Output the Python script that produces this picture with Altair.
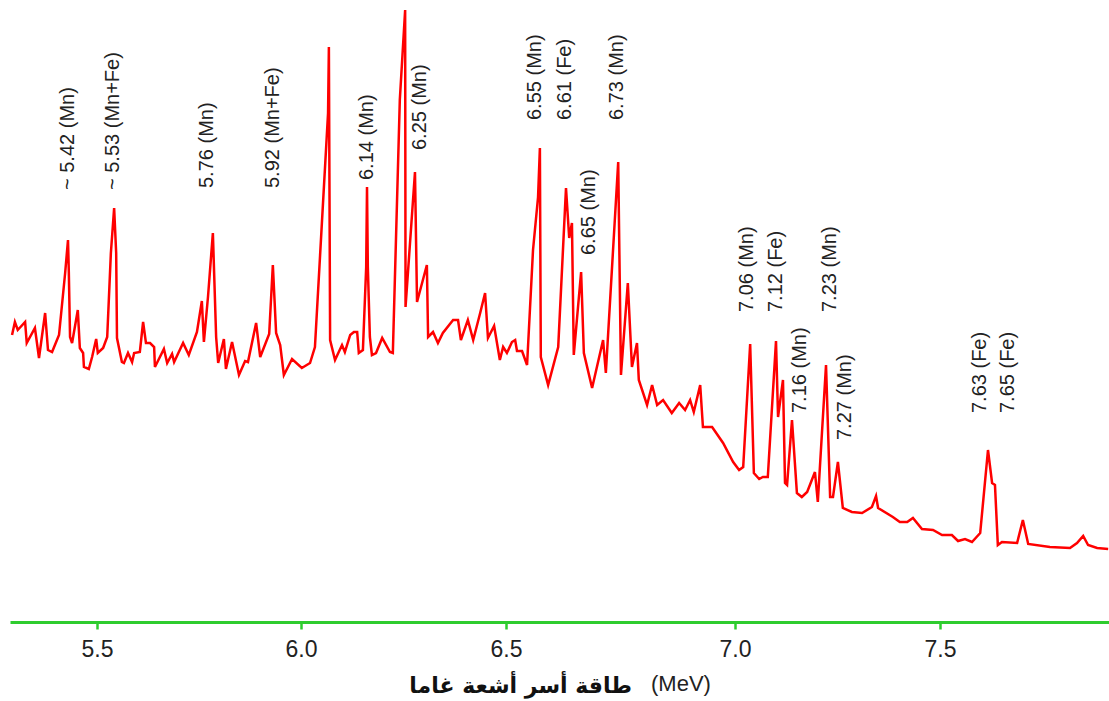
import altair as alt
import pandas as pd

# Spectrum (energy in MeV, counts in arbitrary units)
energy = [5.292, 5.299, 5.306, 5.324, 5.328, 5.348, 5.358, 5.373, 5.380, 5.390,
          5.407, 5.422, 5.429, 5.431, 5.434, 5.439, 5.453, 5.458, 5.466, 5.468,
          5.480, 5.488, 5.498, 5.502, 5.515, 5.525, 5.534, 5.542, 5.547, 5.549,
          5.561, 5.566, 5.576, 5.586, 5.591, 5.605, 5.613, 5.620, 5.630, 5.640,
          5.642, 5.664, 5.672, 5.684, 5.689, 5.711, 5.725, 5.745, 5.757, 5.762,
          5.772, 5.784, 5.792, 5.797, 5.811, 5.816, 5.831, 5.848, 5.863, 5.870,
          5.890, 5.900, 5.922, 5.931, 5.939, 5.949, 5.958, 5.978, 6.002, 6.022,
          6.034, 6.066, 6.068, 6.071, 6.083, 6.100, 6.107, 6.120, 6.129, 6.137,
          6.141, 6.151, 6.159, 6.161, 6.163, 6.168, 6.173, 6.183, 6.198, 6.217,
          6.224, 6.241, 6.254, 6.255, 6.278, 6.283, 6.307, 6.310, 6.322, 6.334,
          6.346, 6.371, 6.383, 6.390, 6.407, 6.420, 6.437, 6.449, 6.456, 6.471,
          6.485, 6.493, 6.502, 6.513, 6.520, 6.524, 6.535, 6.546, 6.559, 6.570,
          6.574, 6.576, 6.592, 6.614, 6.631, 6.638, 6.644, 6.648, 6.664, 6.670,
          6.688, 6.712, 6.718, 6.745, 6.751, 6.766, 6.775, 6.786, 6.790, 6.808,
          6.819, 6.830, 6.843, 6.862, 6.878, 6.891, 6.902, 6.910, 6.924, 6.930,
          6.950, 6.974, 6.996, 7.010, 7.020, 7.037, 7.046, 7.059, 7.068, 7.080,
          7.100, 7.105, 7.117, 7.122, 7.127, 7.139, 7.151, 7.163, 7.176, 7.195,
          7.202, 7.222, 7.232, 7.239, 7.251, 7.263, 7.285, 7.310, 7.334, 7.344,
          7.349, 7.385, 7.402, 7.420, 7.434, 7.456, 7.483, 7.505, 7.529, 7.544,
          7.561, 7.578, 7.598, 7.617, 7.627, 7.634, 7.641, 7.651, 7.688, 7.702,
          7.715, 7.768, 7.817, 7.834, 7.849, 7.861, 7.883, 7.910]
counts = [287, 300, 292, 300, 279, 294, 264, 309, 272, 270,
          287, 349, 382, 350, 285, 279, 312, 274, 269, 255,
          253, 265, 283, 269, 274, 285, 369, 414, 369, 284,
          260, 259, 269, 260, 269, 270, 300, 279, 279, 275,
          255, 273, 259, 268, 260, 279, 267, 290, 321, 280,
          325, 389, 285, 259, 283, 253, 280, 247, 261, 260,
          299, 265, 288, 357, 289, 277, 247, 263, 254, 259,
          275, 509, 575, 282, 262, 277, 270, 287, 290, 290,
          269, 272, 355, 435, 355, 285, 267, 269, 284, 270,
          269, 522, 612, 315, 450, 320, 357, 285, 290, 279,
          289, 302, 302, 282, 302, 282, 309, 329, 284, 296,
          262, 275, 269, 280, 282, 271, 271, 257, 372, 425,
          474, 265, 237, 275, 434, 384, 399, 267, 350, 269,
          234, 282, 249, 460, 247, 339, 255, 279, 242, 217,
          237, 217, 222, 209, 219, 212, 222, 210, 237, 195,
          195, 179, 160, 152, 155, 278, 149, 143, 145, 145,
          281, 205, 242, 139, 137, 202, 129, 125, 130, 150,
          120, 257, 125, 125, 160, 114, 110, 109, 115, 126,
          114, 105, 100, 100, 104, 93, 92, 87, 87, 81,
          83, 80, 89, 172, 139, 137, 77, 80, 79, 102,
          78, 75, 74, 79, 86, 77, 74, 73]

# Peak annotations
peak_labels = ["~ 5.42 (Mn)", "~ 5.53 (Mn+Fe)", "5.76 (Mn)", "5.92 (Mn+Fe)",
               "6.14 (Mn)", "6.25 (Mn)", "6.55 (Mn)", "6.61 (Fe)", "6.65 (Mn)",
               "6.73 (Mn)", "7.06 (Mn)", "7.12 (Fe)", "7.16 (Mn)", "7.23 (Mn)",
               "7.27 (Mn)", "7.63 (Fe)", "7.65 (Fe)"]
peak_E = [5.429, 5.539, 5.770, 5.931, 6.161, 6.290, 6.563, 6.629, 6.681,
          6.742, 7.029, 7.100, 7.159, 7.232, 7.268, 7.598, 7.666]
peak_I = [432, 432, 434, 434, 442, 472, 502, 502, 367,
          502, 310, 310, 209, 310, 182, 209, 209]

tick_values = [5.5, 6.0, 6.5, 7.0, 7.5]
title_ar = "طاقة أسر أشعة غاما"
title_unit = "(MeV)"

spec = pd.DataFrame({"E": energy, "I": counts, "idx": list(range(len(energy)))})
ann = pd.DataFrame({"E": peak_E, "I": peak_I, "label": peak_labels})

xscale = alt.Scale(domain=[5.287, 5.5, 6.0, 6.5, 7.0, 7.5, 7.912],
                   range=[0, 87, 291, 496, 725, 930, 1099], nice=False, zero=False)
yscale = alt.Scale(domain=[0, 622], nice=False, zero=False)

green = "#2ecc2e"

xaxis = alt.Axis(values=tick_values, format=".1f", title=None,
                 domainColor=green, domainWidth=3, tickColor=green,
                 tickWidth=2.5, tickSize=7, labelFontSize=23,
                 labelFont="Liberation Sans", labelColor="#222222",
                 labelPadding=9, grid=False, labelFlush=False)

line = alt.Chart(spec).mark_line(color="#ff0000", strokeWidth=2.5).encode(
    x=alt.X("E:Q", scale=xscale, axis=xaxis),
    y=alt.Y("I:Q", scale=yscale, axis=None),
    order="idx:Q",
)

labels = alt.Chart(ann).mark_text(angle=270, align="left", baseline="middle",
                                  fontSize=20, font="Liberation Sans",
                                  color="#222222").encode(
    x=alt.X("E:Q", scale=xscale, axis=xaxis),
    y=alt.Y("I:Q", scale=yscale, axis=None),
    text="label:N",
)

t_ar = alt.Chart(pd.DataFrame({"t": [title_ar]})).mark_text(
    align="right", baseline="middle", fontSize=22, fontWeight="bold",
    font="DejaVu Sans", color="#111111").encode(
    x=alt.value(622), y=alt.value(686), text="t:N")

t_unit = alt.Chart(pd.DataFrame({"t": [title_unit]})).mark_text(
    align="left", baseline="middle", fontSize=22,
    font="Liberation Sans", color="#222222").encode(
    x=alt.value(641), y=alt.value(684), text="t:N")

chart = alt.layer(line, labels, t_ar, t_unit).properties(
    width=1099, height=622,
    background="white",
    autosize=alt.AutoSizeParams(type="none"),
    padding={"left": 10, "top": 0, "right": 0, "bottom": 79},
).configure_view(stroke=None, strokeWidth=0)

chart.save("out.html", embed_options={"renderer": "svg", "actions": False})
